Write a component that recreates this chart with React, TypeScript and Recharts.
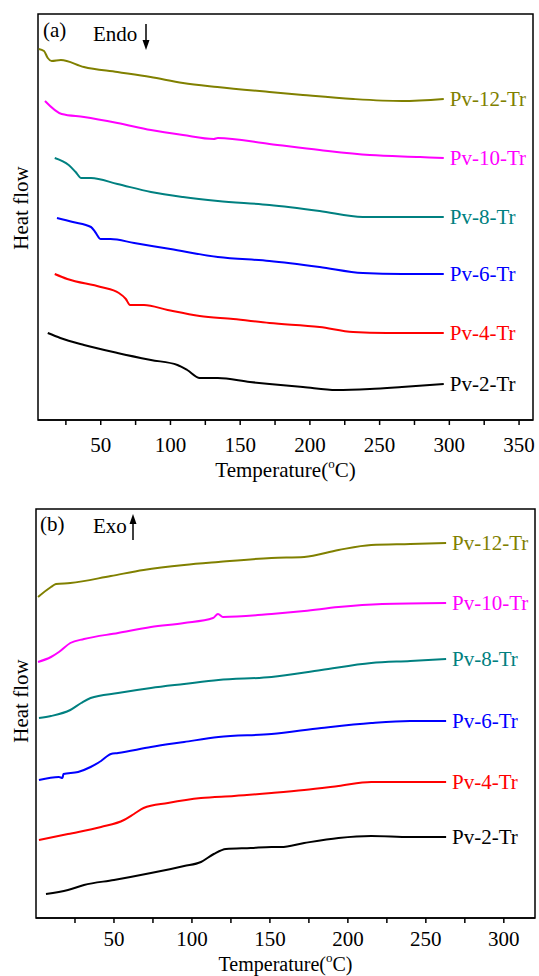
import { LineChart, Line, XAxis, YAxis, ReferenceArea, ReferenceDot } from "recharts";

const FONT = "Liberation Serif, Times New Roman, DejaVu Serif, serif";

const samples = ["Pv-2-Tr", "Pv-4-Tr", "Pv-6-Tr", "Pv-8-Tr", "Pv-10-Tr", "Pv-12-Tr"];
const colors = ["#000000", "#ff0000", "#0000ff", "#008080", "#ff00ff", "#808000"];

const tempTicksA = [25, 50, 75, 100, 125, 150, 175, 200, 225, 250, 275, 300, 325, 350];
const tempTicksB = [25, 50, 75, 100, 125, 150, 175, 200, 225, 250, 275, 300];

// (a) heating scan, endo down (heat flow, a.u.)
const endo2T = [12, 21, 38, 62, 86, 105, 112, 121, 134, 157, 171, 195, 219, 243, 266, 296];
const endo2V = [8.7, 8.2, 7.5, 6.7, 6.0, 5.5, 5.0, 4.2, 4.2, 3.8, 3.6, 3.3, 3.0, 3.1, 3.3, 3.6];
const endo4T = [17, 26, 50, 63, 68, 71, 81, 98, 121, 145, 171, 207, 231, 255, 296];
const endo4V = [14.6, 14.1, 13.3, 12.7, 12.1, 11.5, 11.5, 11.0, 10.4, 10.1, 9.7, 9.3, 8.8, 8.7, 8.7];
const endo6T = [18.6, 30, 43, 46, 50, 57, 74, 100, 134, 171, 207, 238, 266, 296];
const endo6V = [20.2, 19.8, 19.3, 18.8, 18.1, 18.1, 17.7, 17.1, 16.3, 15.9, 15.3, 14.7, 14.6, 14.6];
const endo8T = [17, 27, 32, 36, 43, 62, 86, 109, 134, 171, 207, 238, 266, 296];
const endo8V = [26.2, 25.5, 24.8, 24.2, 24.2, 23.6, 22.8, 22.3, 21.9, 21.5, 20.9, 20.3, 20.3, 20.3];
const endo10T = [10, 22, 38, 62, 86, 109, 131, 134, 171, 207, 243, 279, 296];
const endo10V = [31.9, 30.6, 30.3, 29.7, 29.0, 28.5, 28.1, 28.2, 27.6, 27.0, 26.5, 26.3, 26.2];
const endo12T = [5.5, 9.3, 12, 14.8, 21.4, 37.9, 62, 85.7, 109, 133.6, 171, 195, 231, 266, 296];
const endo12V = [37.1, 36.9, 36.2, 35.9, 36.0, 35.3, 34.8, 34.3, 33.7, 33.3, 32.8, 32.5, 32.1, 31.9, 32.1];

// (b) cooling scan, exo up (heat flow, a.u.)
const exo2T = [6.4, 20.5, 30.8, 50, 73.7, 95, 105.8, 114, 121.8, 137.8, 151, 157, 172, 194, 215, 240, 263];
const exo2V = [2.4, 2.8, 3.3, 3.8, 4.5, 5.2, 5.6, 6.4, 6.9, 7.0, 7.1, 7.1, 7.5, 8.0, 8.2, 8.1, 8.1];
const exo4T = [1.9, 20.5, 41.7, 56.4, 62.8, 69, 84.6, 105.8, 127, 151, 172, 194, 215, 263];
const exo4V = [7.8, 8.4, 9.1, 9.8, 10.4, 11.0, 11.5, 12.0, 12.2, 12.5, 12.8, 13.2, 13.6, 13.6];
const exo6T = [1.9, 14.7, 17, 17.6, 27, 35, 41.7, 48, 52.6, 73.7, 95, 117, 151, 183, 215, 240, 263];
const exo6V = [13.8, 14.1, 14.0, 14.4, 14.6, 15.1, 15.7, 16.4, 16.5, 17.1, 17.6, 18.1, 18.4, 19.0, 19.5, 19.7, 19.7];
const exo8T = [1.9, 9.6, 22, 29, 35, 52.6, 73.7, 95, 117, 151, 183, 215, 240, 263];
const exo8V = [20.0, 20.2, 20.8, 21.5, 22.0, 22.5, 23.0, 23.4, 23.8, 24.1, 24.8, 25.5, 25.7, 25.9];
const exo10T = [1.3, 9.6, 14.7, 22, 30.8, 52.6, 73.7, 95, 113.5, 116.7, 119.9, 151, 172, 194, 222, 263];
const exo10V = [25.6, 26.1, 26.6, 27.5, 27.9, 28.5, 29.1, 29.5, 30.0, 30.4, 30.1, 30.4, 30.7, 31.1, 31.4, 31.5];
const exo12T = [1.3, 9.6, 12.8, 22, 48, 69, 95, 117, 151, 172, 194, 215, 240, 263];
const exo12V = [32.1, 33.1, 33.4, 33.5, 34.2, 34.8, 35.3, 35.6, 36.0, 36.1, 36.8, 37.3, 37.4, 37.5];

type Pt = { t: number; v: number };
const zip = (t: number[], v: number[]): Pt[] => t.map((x, i) => ({ t: x, v: v[i] }));

const endoCurves = [
  zip(endo2T, endo2V),
  zip(endo4T, endo4V),
  zip(endo6T, endo6V),
  zip(endo8T, endo8V),
  zip(endo10T, endo10V),
  zip(endo12T, endo12V),
];
const exoCurves = [
  zip(exo2T, exo2V),
  zip(exo4T, exo4V),
  zip(exo6T, exo6V),
  zip(exo8T, exo8V),
  zip(exo10T, exo10V),
  zip(exo12T, exo12V),
];

interface PanelProps {
  curves: Pt[][];
  xDomain: [number, number];
  xTicks: number[];
  yDomain: [number, number];
  yTicks: number[];
  height: number;
  margin: { top: number; right: number; left: number; bottom: number };
  axisHeight: number;
  tickMargin: number;
  titleDy: number;
  titleSize: number;
}

function Panel(p: PanelProps) {
  const title = (props: any) => {
    const vb = props.viewBox || { x: p.margin.left, y: p.height - p.axisHeight, width: 539 - p.margin.left - p.margin.right };
    return (
      <text
        x={vb.x + vb.width / 2}
        y={vb.y + p.titleDy}
        textAnchor="middle"
        fontSize={p.titleSize}
        fill="#000"
        style={{ fontFamily: FONT }}
      >
        Temperature(<tspan fontSize={13} dy={-9}>o</tspan>
        <tspan dy={9}>C)</tspan>
      </text>
    );
  };

  return (
    <LineChart width={539} height={p.height} margin={p.margin} style={{ fontFamily: FONT }}>
      <XAxis
        type="number"
        dataKey="t"
        domain={p.xDomain}
        ticks={p.xTicks}
        interval={0}
        height={p.axisHeight}
        tickFormatter={(v: number) => (v % 50 === 0 ? String(v) : "")}
        tick={{ fill: "#000", fontSize: 21, style: { fontFamily: FONT } }}
        tickLine={{ stroke: "#000", strokeWidth: 1.5 }}
        tickSize={5}
        tickMargin={p.tickMargin}
        axisLine={{ stroke: "#000", strokeWidth: 1.5 }}
        label={{ content: title }}
      />
      <YAxis
        type="number"
        domain={p.yDomain}
        ticks={p.yTicks}
        mirror
        tick={false}
        tickSize={5}
        tickLine={{ stroke: "#000", strokeWidth: 1 }}
        axisLine={false}
      />
      {p.curves.map((c, i) => (
        <Line
          key={samples[i]}
          data={c}
          dataKey="v"
          type="monotone"
          stroke={colors[i]}
          strokeWidth={2}
          dot={false}
          isAnimationActive={false}
        />
      ))}
      <ReferenceArea
        x1={p.xDomain[0]}
        x2={p.xDomain[1]}
        y1={p.yDomain[0]}
        y2={p.yDomain[1]}
        fill="none"
        stroke="#000"
        strokeWidth={1.5}
        ifOverflow="visible"
      />
      {p.curves.map((c, i) => {
        const last = c[c.length - 1];
        return (
          <ReferenceDot
            key={"lbl" + samples[i]}
            x={last.t}
            y={last.v}
            r={0}
            fill="none"
            stroke="none"
            label={{
              value: samples[i],
              position: "right",
              offset: 6,
              fill: colors[i],
              fontSize: 21,
              style: { fontFamily: FONT },
            }}
          />
        );
      })}
    </LineChart>
  );
}

export default function App() {
  return (
    <div
      style={{
        position: "fixed",
        left: 0,
        top: 0,
        width: 539,
        height: 976,
        background: "#fff",
        fontFamily: FONT,
      }}
    >
      <div style={{ position: "absolute", left: 0, top: 0 }}>
        <Panel
          curves={endoCurves}
          xDomain={[5, 360]}
          xTicks={tempTicksA}
          yDomain={[0, 40.6]}
          yTicks={[3.5, 5.6]}
          height={490}
          margin={{ top: 14, right: 6, left: 38, bottom: 0 }}
          axisHeight={70}
          tickMargin={12}
          titleDy={57}
          titleSize={21}
        />
      </div>
      <div style={{ position: "absolute", left: 0, top: 490 }}>
        <Panel
          curves={exoCurves}
          xDomain={[0, 320]}
          xTicks={tempTicksB}
          yDomain={[0, 40.9]}
          yTicks={[2.0]}
          height={486}
          margin={{ top: 19, right: 4, left: 36, bottom: 0 }}
          axisHeight={58}
          tickMargin={8}
          titleDy={53}
          titleSize={20}
        />
      </div>
      <svg
        width={539}
        height={976}
        style={{ position: "absolute", left: 0, top: 0, pointerEvents: "none", fontFamily: FONT }}
      >
        <g fontSize={21} fill="#000">
          <text x={43} y={37}>(a)</text>
          <text x={93} y={41}>Endo</text>
          <text transform="translate(28,208) rotate(-90)" textAnchor="middle">Heat flow</text>
          <text x={40} y={531}>(b)</text>
          <text x={93} y={533}>Exo</text>
          <text transform="translate(28,701) rotate(-90)" textAnchor="middle">Heat flow</text>
        </g>
        <line x1={146} y1={24} x2={146} y2={42} stroke="#000" strokeWidth={1.5} />
        <polygon points="142.5,40 149.5,40 146,50" fill="#000" />
        <line x1={133} y1={540} x2={133} y2={522} stroke="#000" strokeWidth={1.5} />
        <polygon points="129.5,524 136.5,524 133,514" fill="#000" />
      </svg>
    </div>
  );
}
